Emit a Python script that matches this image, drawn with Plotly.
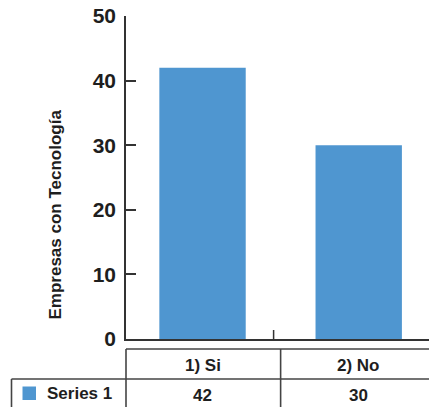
import plotly.graph_objects as go

# ---- data ----
categories = ["1) Si", "2) No"]
series_name = "Series 1"
values = [42, 30]
y_ticks = [0, 10, 20, 30, 40, 50]
y_title = "Empresas con Tecnología"

# ---- layout constants (pixels) ----
W, H = 429, 407
ML, MT, MR, MB = 126, 16, 0, 68
plot_w = W - ML - MR
plot_h = H - MT - MB
BASE = H - MB  # pixel row of the baseline

BLUE = "#4F96D0"
LINE = "#333333"
GRID = "#444444"
TXT = "#1e1e1e"
FONT = "Liberation Sans"


def py(pix):
    """pixel row -> paper y"""
    return (BASE - pix) / plot_h


def px(pix):
    """pixel column -> paper x"""
    return (pix - ML) / plot_w


x_range = [-0.49, 1.45]

fig = go.Figure()
fig.add_trace(go.Bar(
    x=categories, y=values, name=series_name,
    marker=dict(color=BLUE, line=dict(width=0)),
    width=0.553, showlegend=False, hoverinfo="x+y",
))

shapes = []
# small separator tick on the category axis
shapes.append(dict(type="line", xref="x", yref="paper",
                   x0=0.455, x1=0.455, y0=0, y1=py(BASE - 9),
                   line=dict(color=LINE, width=1.5)))

# data table grid
table_top = BASE + 10
row_split = BASE + 40
shapes += [
    dict(type="line", xref="paper", yref="paper", x0=0, x1=1.05,
         y0=py(table_top), y1=py(table_top), line=dict(color=GRID, width=1.6)),
    dict(type="line", xref="paper", yref="paper", x0=px(11.5), x1=1.05,
         y0=py(row_split), y1=py(row_split), line=dict(color=GRID, width=1.6)),
    dict(type="line", xref="paper", yref="paper", x0=0, x1=0,
         y0=py(table_top), y1=py(H + 5), line=dict(color=GRID, width=1.6)),
    dict(type="line", xref="x", yref="paper", x0=0.5, x1=0.5,
         y0=py(table_top), y1=py(H + 5), line=dict(color=GRID, width=1.6)),
    dict(type="line", xref="paper", yref="paper", x0=px(11.5), x1=px(11.5),
         y0=py(row_split), y1=py(H + 5), line=dict(color=GRID, width=1.6)),
]
# legend key in the table row
shapes.append(dict(type="rect", xref="paper", yref="paper",
                   x0=px(22.5), x1=px(36), y0=py(400), y1=py(386.5),
                   fillcolor=BLUE, line=dict(width=0)))

tfont = dict(family=FONT, size=17, color=TXT, weight="bold")
annotations = []
for cat, val in zip(categories, values):
    annotations.append(dict(x=cat, xref="x", y=py(365), yref="paper",
                            text=cat, showarrow=False, font=tfont,
                            xanchor="center", yanchor="middle"))
    annotations.append(dict(x=cat, xref="x", y=py(395), yref="paper",
                            text=str(val), showarrow=False, font=tfont,
                            xanchor="center", yanchor="middle"))
annotations.append(dict(x=px(45), xref="paper", y=py(393.5), yref="paper",
                        text=series_name, showarrow=False, font=tfont,
                        xanchor="left", yanchor="middle"))
# y-axis title
annotations.append(dict(x=px(55), xref="paper", y=py(214.5), yref="paper",
                        text=y_title, textangle=-90, showarrow=False,
                        font=dict(family=FONT, size=17, color=TXT, weight="bold"),
                        xanchor="center", yanchor="middle"))

fig.update_layout(
    width=W, height=H,
    margin=dict(l=ML, r=MR, t=MT, b=MB, pad=0),
    paper_bgcolor="white", plot_bgcolor="white",
    shapes=shapes, annotations=annotations,
    showlegend=False,
    xaxis=dict(type="category", range=x_range, showline=True,
               linecolor=LINE, linewidth=1.5, showticklabels=False,
               ticks="", showgrid=False, zeroline=False, fixedrange=True),
    yaxis=dict(range=[0, 50], tickvals=y_ticks, ticks="inside", ticklen=10,
               tickwidth=1.5, tickcolor=LINE, showline=True, linecolor=LINE,
               linewidth=1.5, showgrid=False, zeroline=False,
               ticklabelstandoff=4,
               tickfont=dict(family=FONT, size=21, color=TXT, weight="bold"),
               fixedrange=True),
)

fig.write_html("out.html")
